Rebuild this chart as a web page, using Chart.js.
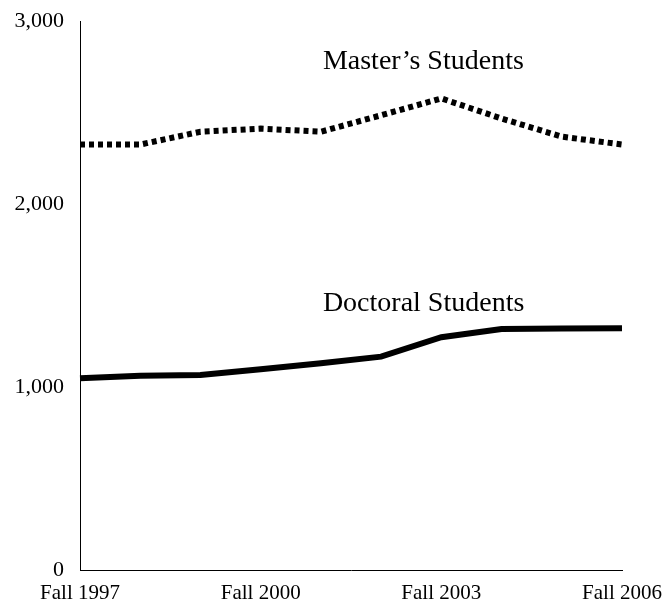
<!DOCTYPE html>
<html>
<head>
<meta charset="utf-8">
<script src="https://cdn.jsdelivr.net/npm/chart.js@4"></script>
<style>
  html, body { margin: 0; padding: 0; background: #fff; }
  #wrap { width: 663px; height: 605px; position: relative; }
</style>
</head>
<body>
<div id="wrap"><canvas id="enrollChart"></canvas></div>
<script>
// data
const terms = ['Fall 1997', 'Fall 1998', 'Fall 1999', 'Fall 2000', 'Fall 2001',
               'Fall 2002', 'Fall 2003', 'Fall 2004', 'Fall 2005', 'Fall 2006'];
const mastersStudents = [2325, 2325, 2395, 2412, 2395, 2485, 2577, 2467, 2368, 2325];
const doctoralStudents = [1048, 1062, 1066, 1097, 1130, 1166, 1272, 1317, 1319, 1321];
const shownTerms = ['Fall 1997', 'Fall 2000', 'Fall 2003', 'Fall 2006'];
const yTicks = [0, 1000, 2000, 3000];

const serif = '"Liberation Serif", "Times New Roman", serif';

// series names drawn next to the lines, anchored on the scales
const seriesLabels = {
  id: 'seriesLabels',
  afterDatasetsDraw(chart) {
    const { ctx, scales: { x, y } } = chart;
    ctx.save();
    ctx.fillStyle = '#000';
    ctx.font = '28px ' + serif;
    ctx.textBaseline = 'alphabetic';
    ctx.textAlign = 'left';
    ctx.fillText('Master\u2019s Students', x.getPixelForValue(4) + 2, y.getPixelForValue(2735));
    ctx.fillText('Doctoral Students', x.getPixelForValue(4) + 2, y.getPixelForValue(1415));
    ctx.restore();
  }
};

const ctx = document.getElementById('enrollChart').getContext('2d');
new Chart(ctx, {
  type: 'line',
  data: {
    labels: terms,
    datasets: [
      {
        label: "Master's Students",
        data: mastersStudents,
        borderColor: '#000',
        borderWidth: 6,
        borderDash: [5, 4],
        borderCapStyle: 'butt',
        pointRadius: 0,
        tension: 0
      },
      {
        label: 'Doctoral Students',
        data: doctoralStudents,
        borderColor: '#000',
        borderWidth: 6,
        pointRadius: 0,
        tension: 0
      }
    ]
  },
  options: {
    responsive: true,
    maintainAspectRatio: false,
    animation: false,
    layout: { padding: { top: 21, right: 41, left: 0, bottom: 0 } },
    plugins: {
      legend: { display: false },
      tooltip: { enabled: false }
    },
    scales: {
      x: {
        grid: { display: false, drawTicks: false },
        border: { display: true, color: '#000', width: 1 },
        afterFit: (scale) => {
          scale.height = 35;
          scale.paddingLeft = 0;
          scale.paddingRight = 0;
        },
        ticks: {
          autoSkip: false,
          maxRotation: 0,
          padding: 11,
          color: '#000',
          font: { family: serif, size: 21 },
          callback: function (value) {
            const lbl = this.getLabelForValue(value);
            return shownTerms.includes(lbl) ? lbl : '';
          }
        }
      },
      y: {
        min: 0,
        max: 3000,
        afterBuildTicks: (scale) => { scale.ticks = yTicks.map(v => ({ value: v })); },
        afterFit: (scale) => {
          scale.width = 80;
          scale.paddingTop = 0;
          scale.paddingBottom = 0;
        },
        grid: { display: false, drawTicks: false },
        border: { display: true, color: '#000', width: 1 },
        ticks: {
          padding: 16,
          color: '#000',
          font: { family: serif, size: 22 },
          callback: v => v.toLocaleString('en-US')
        }
      }
    }
  },
  plugins: [seriesLabels]
});
</script>
</body>
</html>
